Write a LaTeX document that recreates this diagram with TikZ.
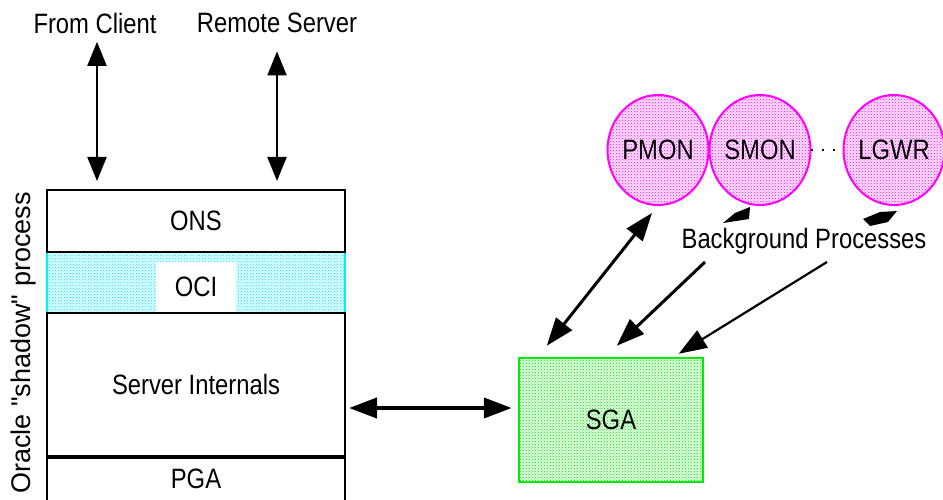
\documentclass[tikz,border=0pt]{standalone}
\usepackage{fontspec}
\setmainfont{Liberation Sans}[FakeStretch=0.85]
\newfontfamily\sidefont{Liberation Sans}
\usetikzlibrary{arrows.meta,shapes.geometric,patterns}

\begin{document}
\begin{tikzpicture}[x=1pt,y=-1pt,
  lbl/.style={font=\fontsize{28}{30}\selectfont},
  layer/.style={draw,line width=2pt,minimum width=298pt,inner sep=0pt,lbl},
  bgproc/.style={ellipse,draw=sh_pink,line width=2pt,preaction={fill=sh_pink!12},
                 pattern=crosshatch dots,pattern color=sh_pink,
                 minimum width=96pt,minimum height=110pt,inner sep=0pt,lbl},
  link/.style={line width=2.2pt,>={Triangle[length=24pt,width=19pt]}},
  diag/.style={line width=3pt,>={Triangle[length=28pt,width=20pt]}}]

% ------------------------------------------------ shadow process colors
\definecolor{sh_cyan}{RGB}{0,240,255}   %#00F0FF
\definecolor{sh_pink}{RGB}{255,0,255}   %#FF00FF
\definecolor{sh_green}{RGB}{0,235,0}    %#00EB00

\useasboundingbox (0,0) rectangle (943,500);

% the process stack
\node[draw=sh_cyan,line width=2pt,preaction={fill=sh_cyan!12},pattern=crosshatch dots,pattern color=sh_cyan,
      minimum width=298pt,minimum height=61pt,inner sep=0pt] (oci) at (196,282.5) {};
\node[fill=white,minimum width=80pt,minimum height=50pt,lbl] (ocitext) at (196,287) {OCI};
\node[layer,minimum height=62pt] (ons) at (196,221) {ONS};
\node[layer,minimum height=143pt] (srv) at (196,384.5) {Server Internals};
\node[layer,minimum height=60pt,text depth=18pt,anchor=north] (pga) at (srv.south) {PGA};

\node[rotate=90,font=\sidefont\fontsize{27}{29}\selectfont] (side) at (24,343) {Oracle "shadow" process};

\node[lbl] (client) at (95,23) {From Client};
\node[lbl] (remote) at (277,23) {Remote Server};

\draw [link,<->] ([xshift=2pt,yshift=-5pt]client.south) -- ([xshift=2pt,yshift=8pt]client.south |- ons.north);
\draw [link,<->] ([yshift=-15pt]remote.south) -- ([yshift=8pt]remote.south |- ons.north);

% SGA and the background processes
\node[draw=sh_green,line width=2.5pt,preaction={fill=sh_green!12},pattern=crosshatch dots,pattern color=sh_green,
      minimum width=184pt,minimum height=124pt,lbl] (sga) at (611,420) {SGA};

\draw [diag,line width=4pt,<->] ([xshift=3pt,yshift=-23.5pt]srv.east) -- ([xshift=-6pt,yshift=12pt]sga.west);

\node[bgproc] (pmon) at (658,150) {PMON};
\node[bgproc] (smon) at (760,150) {SMON};
\node[bgproc] (lgwr) at (894,150) {LGWR};
\draw [line width=2.5pt,dash pattern=on 2pt off 9pt] (smon.east) -- (lgwr.west);

\node[lbl] (bgp) at (804,241) {Background Processes};

\coordinate (smontail) at (705,262);
\coordinate (lgwrtail) at (827,262);

\draw [diag,<->] ([xshift=-6pt,yshift=-7pt]pmon.south) -- ([xshift=29pt,yshift=11pt]sga.north west);
\draw [diag,->] (smontail) -- ([xshift=99pt,yshift=11pt]sga.north west);
\draw [diag,line width=2.2pt,->] (lgwrtail) -- ([xshift=161pt,yshift=3pt]sga.north west);

\fill (723,223) -- (735,213) -- (750,207) -- (749,219) -- cycle;
\fill (863,219) -- (880,212) -- (897,211) -- (888,222) -- (870,226) -- cycle;

\end{tikzpicture}
\end{document}
